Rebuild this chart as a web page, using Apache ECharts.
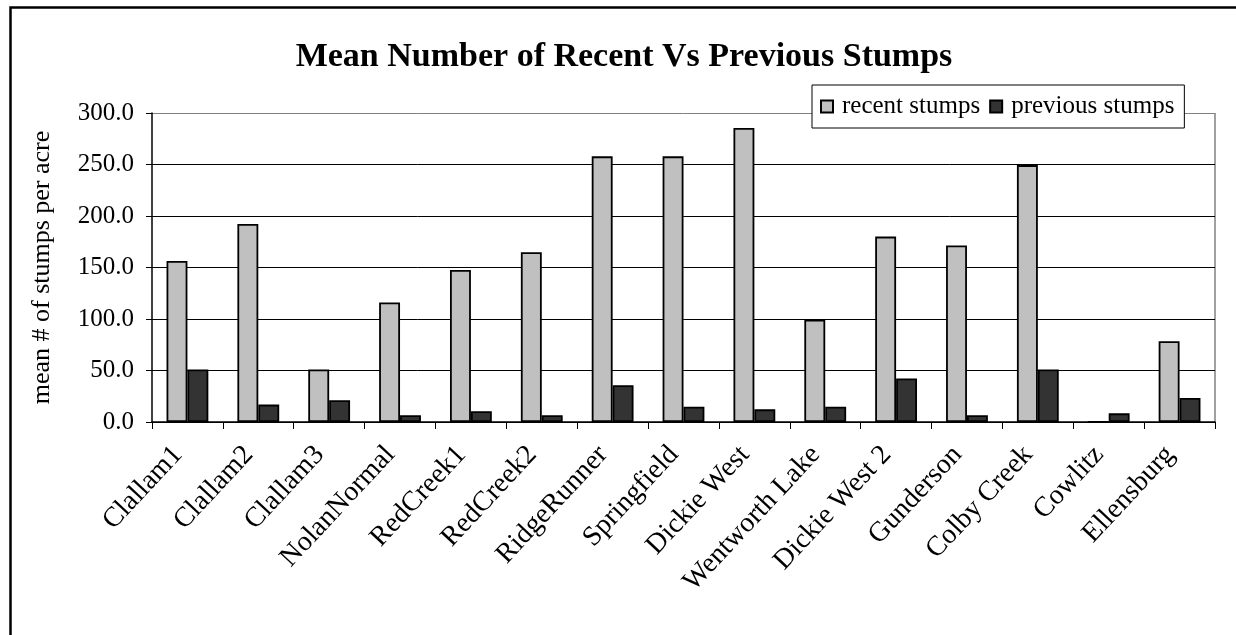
<!DOCTYPE html>
<html>
<head>
<meta charset="utf-8">
<script src="https://cdn.jsdelivr.net/npm/echarts@6/dist/echarts.min.js"></script>
<style>
html,body{margin:0;padding:0;background:#fff;}
#chart{width:1236px;height:635px;}
</style>
</head>
<body>
<div id="chart"></div>
<script>
const categories = ['Clallam1','Clallam2','Clallam3','NolanNormal','RedCreek1','RedCreek2','RidgeRunner','Springfield','Dickie West','Wentworth Lake','Dickie West 2','Gunderson','Colby Creek','Cowlitz','Ellensburg'];
const recentStumps = [156.3, 192.3, 50.9, 116.1, 147.6, 164.8, 257.9, 257.9, 285.4, 99.3, 180.0, 171.3, 249.4, 0, 78.5];
const previousStumps = [50.9, 16.9, 21.1, 6.5, 10.4, 6.5, 35.7, 14.9, 12.3, 14.9, 42.2, 6.5, 50.9, 8.4, 23.4];
const seriesNames = ['recent stumps', 'previous stumps'];
const titleText = 'Mean Number of Recent Vs Previous Stumps';
const yAxisName = 'mean # of stumps per acre';

const FONT = '"Liberation Serif", "Times New Roman", serif';
const chart = echarts.init(document.getElementById('chart'), null, {renderer: 'canvas'});
chart.setOption({
  backgroundColor: '#fff',
  animation: false,
  graphic: [{
    type: 'rect', left: 8, top: 5, z: 100, silent: true,
    shape: {x: 0, y: 0, width: 1300, height: 700},
    style: {fill: 'none', stroke: '#000', lineWidth: 2.5}
  }, {
    type: 'line', silent: true, z: 0,
    shape: {x1: 1215, y1: 113, x2: 1215, y2: 422},
    style: {stroke: '#808080', lineWidth: 1.5}
  }],
  title: {
    text: titleText,
    left: 619, top: 35, textAlign: 'center',
    textStyle: {fontFamily: FONT, fontWeight: 'bold', fontSize: 34, color: '#000'}
  },
  legend: {
    data: seriesNames,
    left: 812, top: 85,
    padding: [9, 10, 9, 8],
    itemGap: 9,
    itemWidth: 12, itemHeight: 12,
    icon: 'rect',
    backgroundColor: '#fff',
    borderColor: '#000', borderWidth: 1,
    z: 10,
    textStyle: {fontFamily: FONT, fontSize: 25, color: '#000', padding: [0, 0, 0, 4]}
  },
  grid: {left: 152, right: 21, top: 113, bottom: 213, containLabel: false},
  xAxis: {
    type: 'category',
    data: categories,
    axisLine: {lineStyle: {color: '#000', width: 1.5}},
    axisTick: {show: true, length: 7, lineStyle: {color: '#000'}},
    axisLabel: {interval: 0, rotate: 47, margin: 18, padding: [0, 14, 0, 0], fontFamily: FONT, fontSize: 28, color: '#000'}
  },
  yAxis: {
    type: 'value',
    min: 0, max: 300, interval: 50,
    name: yAxisName,
    nameLocation: 'middle',
    nameGap: 97,
    nameTextStyle: {fontFamily: FONT, fontSize: 26, color: '#000'},
    axisLine: {show: true, lineStyle: {color: '#000', width: 1.5}},
    axisTick: {show: true, inside: false, length: 6, lineStyle: {color: '#000'}},
    axisLabel: {margin: 18, fontFamily: FONT, fontSize: 25, color: '#000', formatter: v => v.toFixed(1)},
    splitLine: {show: true, lineStyle: {color: ['#000', '#000', '#000', '#000', '#000', '#000', '#808080'], width: 1}}
  },
  series: [
    {
      name: seriesNames[0], type: 'bar', data: recentStumps,
      barGap: '0%', barCategoryGap: '41%',
      itemStyle: {color: '#c0c0c0', borderColor: '#000', borderWidth: 1.8}
    },
    {
      name: seriesNames[1], type: 'bar', data: previousStumps,
      barGap: '0%', barCategoryGap: '41%',
      itemStyle: {color: '#333333', borderColor: '#000', borderWidth: 1.8}
    }
  ]
});
</script>
</body>
</html>
